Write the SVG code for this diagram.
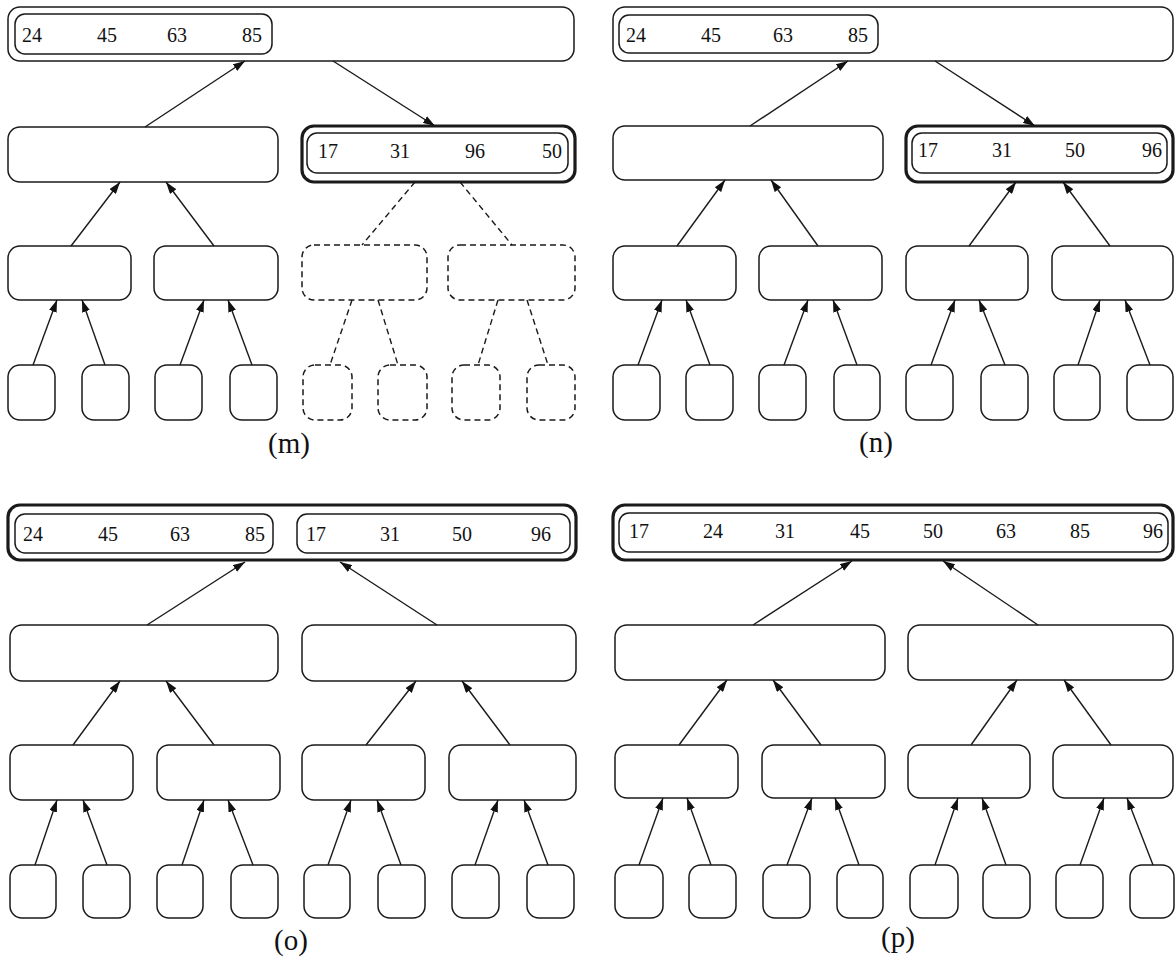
<svg xmlns="http://www.w3.org/2000/svg" width="1175" height="958" viewBox="0 0 1175 958">
<style>
rect{fill:none;stroke:#1a1a1a;stroke-width:1.5}
rect.t{stroke-width:3.2}
rect.d,line.d{stroke-dasharray:6 4}
.c line{stroke:#1a1a1a;stroke-width:1.4}
.c line.a{marker-end:url(#ah)}
text{font-family:"Liberation Serif","Times New Roman",serif;font-size:20px;fill:#111}
text.lb{font-size:29px;text-anchor:middle}
</style>
<defs>
<marker id="ah" viewBox="0 0 12 8" refX="12" refY="4" markerWidth="12" markerHeight="8" markerUnits="userSpaceOnUse" orient="auto"><path d="M0,0 L12,4 L0,8 z" fill="#111"/></marker>
</defs>
<rect x="0" y="0" width="1175" height="958" style="fill:#fff;stroke:none"/>

<!-- Panel m -->
<g id="m">
<g id="m-top"><rect x="8" y="7" width="566" height="54" rx="12"/><rect x="15" y="14" width="257" height="40" rx="10"/><text x="22" y="42">24</text><text x="97" y="42">45</text><text x="167" y="42">63</text><text x="242" y="42">85</text></g>
<g id="m-mid-l"><rect x="8" y="127" width="270" height="55" rx="12"/></g>
<g id="m-mid-r"><rect class="t" x="302" y="126" width="273" height="56" rx="12"/><rect x="307" y="133" width="261" height="40" rx="10"/><text x="318" y="158">17</text><text x="390" y="158">31</text><text x="465" y="158">96</text><text x="542" y="158">50</text></g>
<g id="m-l3-1"><rect x="8" y="246" width="123" height="54" rx="12"/></g>
<g id="m-l3-2"><rect x="154" y="246" width="124" height="54" rx="12"/></g>
<g id="m-l3-3"><rect class="d" x="302" y="245" width="125" height="55" rx="12"/></g>
<g id="m-l3-4"><rect class="d" x="448" y="245" width="127" height="55" rx="12"/></g>
<g id="m-lf-1"><rect x="8" y="365" width="47" height="55" rx="12"/></g>
<g id="m-lf-2"><rect x="82" y="365" width="47" height="55" rx="12"/></g>
<g id="m-lf-3"><rect x="155" y="365" width="47" height="55" rx="12"/></g>
<g id="m-lf-4"><rect x="230" y="365" width="47" height="55" rx="12"/></g>
<g id="m-lf-5"><rect class="d" x="303" y="365" width="49" height="55" rx="12"/></g>
<g id="m-lf-6"><rect class="d" x="378" y="365" width="49" height="55" rx="12"/></g>
<g id="m-lf-7"><rect class="d" x="452" y="365" width="48" height="55" rx="12"/></g>
<g id="m-lf-8"><rect class="d" x="527" y="365" width="48" height="55" rx="12"/></g>
<text class="lb" x="289" y="453">(m)</text>
</g>

<!-- Panel n -->
<g id="n">
<g id="n-top"><rect x="613" y="7" width="560" height="54" rx="12"/><rect x="619" y="15" width="259" height="38" rx="10"/><text x="626" y="42">24</text><text x="701" y="42">45</text><text x="773" y="42">63</text><text x="848" y="42">85</text></g>
<g id="n-mid-l"><rect x="613" y="126" width="270" height="54" rx="12"/></g>
<g id="n-mid-r"><rect class="t" x="906" y="126" width="267" height="56" rx="12"/><rect x="912" y="133" width="255" height="40" rx="10"/><text x="918" y="157">17</text><text x="992" y="157">31</text><text x="1065" y="157">50</text><text x="1142" y="157">96</text></g>
<g id="n-l3-1"><rect x="613" y="246" width="123" height="54" rx="12"/></g>
<g id="n-l3-2"><rect x="759" y="246" width="123" height="54" rx="12"/></g>
<g id="n-l3-3"><rect x="906" y="246" width="122" height="54" rx="12"/></g>
<g id="n-l3-4"><rect x="1052" y="246" width="121" height="54" rx="12"/></g>
<g id="n-lf-1"><rect x="613" y="365" width="47" height="55" rx="12"/></g>
<g id="n-lf-2"><rect x="686" y="365" width="47" height="55" rx="12"/></g>
<g id="n-lf-3"><rect x="759" y="365" width="47" height="55" rx="12"/></g>
<g id="n-lf-4"><rect x="834" y="365" width="46" height="55" rx="12"/></g>
<g id="n-lf-5"><rect x="906" y="365" width="47" height="55" rx="12"/></g>
<g id="n-lf-6"><rect x="981" y="365" width="47" height="55" rx="12"/></g>
<g id="n-lf-7"><rect x="1054" y="365" width="46" height="55" rx="12"/></g>
<g id="n-lf-8"><rect x="1127" y="365" width="46" height="55" rx="12"/></g>
<text class="lb" x="876" y="452">(n)</text>
</g>

<!-- Panel o -->
<g id="o">
<g id="o-top"><rect class="t" x="8" y="505" width="568" height="55" rx="12"/><rect x="15" y="514" width="258" height="39" rx="10"/><text x="23" y="541">24</text><text x="98" y="541">45</text><text x="170" y="541">63</text><text x="245" y="541">85</text><rect x="297" y="514" width="273" height="39" rx="10"/><text x="306" y="541">17</text><text x="380" y="541">31</text><text x="452" y="541">50</text><text x="531" y="541">96</text></g>
<g id="o-mid-l"><rect x="10" y="625" width="268" height="56" rx="12"/></g>
<g id="o-mid-r"><rect x="302" y="625" width="274" height="56" rx="12"/></g>
<g id="o-l3-1"><rect x="10" y="745" width="123" height="55" rx="12"/></g>
<g id="o-l3-2"><rect x="157" y="745" width="123" height="55" rx="12"/></g>
<g id="o-l3-3"><rect x="302" y="745" width="123" height="55" rx="12"/></g>
<g id="o-l3-4"><rect x="449" y="745" width="127" height="55" rx="12"/></g>
<g id="o-lf-1"><rect x="10" y="865" width="46" height="53" rx="12"/></g>
<g id="o-lf-2"><rect x="83" y="865" width="47" height="53" rx="12"/></g>
<g id="o-lf-3"><rect x="157" y="865" width="46" height="53" rx="12"/></g>
<g id="o-lf-4"><rect x="231" y="865" width="47" height="53" rx="12"/></g>
<g id="o-lf-5"><rect x="304" y="865" width="46" height="53" rx="12"/></g>
<g id="o-lf-6"><rect x="378" y="865" width="47" height="53" rx="12"/></g>
<g id="o-lf-7"><rect x="452" y="865" width="47" height="53" rx="12"/></g>
<g id="o-lf-8"><rect x="527" y="865" width="47" height="53" rx="12"/></g>
<text class="lb" x="291" y="950">(o)</text>
</g>

<!-- Panel p -->
<g id="p">
<g id="p-top"><rect class="t" x="613" y="505" width="560" height="55" rx="12"/><rect x="619" y="513" width="549" height="39" rx="10"/><text x="629" y="538">17</text><text x="703" y="538">24</text><text x="775" y="538">31</text><text x="850" y="538">45</text><text x="923" y="538">50</text><text x="996" y="538">63</text><text x="1070" y="538">85</text><text x="1143" y="538">96</text></g>
<g id="p-mid-l"><rect x="615" y="625" width="270" height="55" rx="12"/></g>
<g id="p-mid-r"><rect x="908" y="625" width="265" height="55" rx="12"/></g>
<g id="p-l3-1"><rect x="615" y="745" width="123" height="53" rx="12"/></g>
<g id="p-l3-2"><rect x="762" y="745" width="123" height="53" rx="12"/></g>
<g id="p-l3-3"><rect x="908" y="745" width="122" height="53" rx="12"/></g>
<g id="p-l3-4"><rect x="1053" y="745" width="120" height="53" rx="12"/></g>
<g id="p-lf-1"><rect x="615" y="865" width="48" height="53" rx="12"/></g>
<g id="p-lf-2"><rect x="689" y="865" width="47" height="53" rx="12"/></g>
<g id="p-lf-3"><rect x="763" y="865" width="47" height="53" rx="12"/></g>
<g id="p-lf-4"><rect x="837" y="865" width="46" height="53" rx="12"/></g>
<g id="p-lf-5"><rect x="910" y="865" width="48" height="53" rx="12"/></g>
<g id="p-lf-6"><rect x="983" y="865" width="47" height="53" rx="12"/></g>
<g id="p-lf-7"><rect x="1056" y="865" width="47" height="53" rx="12"/></g>
<g id="p-lf-8"><rect x="1130" y="865" width="44" height="53" rx="12"/></g>
<text class="lb" x="898" y="947">(p)</text>
</g>

<g id="connectors" class="c">
<!-- m -->
<line class="a" x1="145" y1="127" x2="245" y2="61"/>
<line class="a" x1="333" y1="61" x2="435" y2="126"/>
<line class="a" x1="71" y1="246" x2="120" y2="182"/>
<line class="a" x1="214" y1="246" x2="166" y2="182"/>
<line class="a" x1="33" y1="365" x2="57" y2="300"/>
<line class="a" x1="105" y1="365" x2="82" y2="300"/>
<line class="a" x1="180" y1="365" x2="204" y2="300"/>
<line class="a" x1="252" y1="365" x2="228" y2="300"/>
<line class="d" x1="415" y1="182" x2="362" y2="245"/>
<line class="d" x1="460" y1="182" x2="512" y2="245"/>
<line class="d" x1="352" y1="300" x2="330" y2="365"/>
<line class="d" x1="378" y1="300" x2="398" y2="365"/>
<line class="d" x1="498" y1="300" x2="478" y2="365"/>
<line class="d" x1="527" y1="300" x2="548" y2="365"/>
<!-- n -->
<line class="a" x1="750" y1="126" x2="848" y2="61"/>
<line class="a" x1="935" y1="61" x2="1035" y2="126"/>
<line class="a" x1="677" y1="246" x2="725" y2="180"/>
<line class="a" x1="818" y1="246" x2="771" y2="180"/>
<line class="a" x1="969" y1="246" x2="1016" y2="182"/>
<line class="a" x1="1110" y1="246" x2="1063" y2="182"/>
<line class="a" x1="638" y1="365" x2="662" y2="300"/>
<line class="a" x1="710" y1="365" x2="686" y2="300"/>
<line class="a" x1="784" y1="365" x2="808" y2="300"/>
<line class="a" x1="857" y1="365" x2="833" y2="300"/>
<line class="a" x1="931" y1="365" x2="955" y2="300"/>
<line class="a" x1="1005" y1="365" x2="979" y2="300"/>
<line class="a" x1="1078" y1="365" x2="1100" y2="300"/>
<line class="a" x1="1150" y1="365" x2="1125" y2="300"/>
<!-- o -->
<line class="a" x1="147" y1="625" x2="245" y2="562"/>
<line class="a" x1="437" y1="625" x2="340" y2="562"/>
<line class="a" x1="73" y1="745" x2="120" y2="681"/>
<line class="a" x1="214" y1="745" x2="166" y2="681"/>
<line class="a" x1="366" y1="745" x2="416" y2="681"/>
<line class="a" x1="510" y1="745" x2="462" y2="681"/>
<line class="a" x1="35" y1="865" x2="57" y2="800"/>
<line class="a" x1="107" y1="865" x2="83" y2="800"/>
<line class="a" x1="182" y1="865" x2="204" y2="800"/>
<line class="a" x1="253" y1="865" x2="228" y2="800"/>
<line class="a" x1="328" y1="865" x2="351" y2="800"/>
<line class="a" x1="401" y1="865" x2="377" y2="800"/>
<line class="a" x1="475" y1="865" x2="498" y2="800"/>
<line class="a" x1="548" y1="865" x2="524" y2="800"/>
<!-- p -->
<line class="a" x1="753" y1="625" x2="852" y2="561"/>
<line class="a" x1="1038" y1="625" x2="943" y2="561"/>
<line class="a" x1="679" y1="745" x2="727" y2="680"/>
<line class="a" x1="821" y1="745" x2="773" y2="680"/>
<line class="a" x1="971" y1="745" x2="1017" y2="680"/>
<line class="a" x1="1111" y1="745" x2="1064" y2="680"/>
<line class="a" x1="639" y1="865" x2="663" y2="798"/>
<line class="a" x1="711" y1="865" x2="687" y2="798"/>
<line class="a" x1="787" y1="865" x2="812" y2="798"/>
<line class="a" x1="859" y1="865" x2="835" y2="798"/>
<line class="a" x1="935" y1="865" x2="958" y2="798"/>
<line class="a" x1="1006" y1="865" x2="982" y2="798"/>
<line class="a" x1="1080" y1="865" x2="1104" y2="798"/>
<line class="a" x1="1153" y1="865" x2="1127" y2="798"/>
</g>
</svg>
